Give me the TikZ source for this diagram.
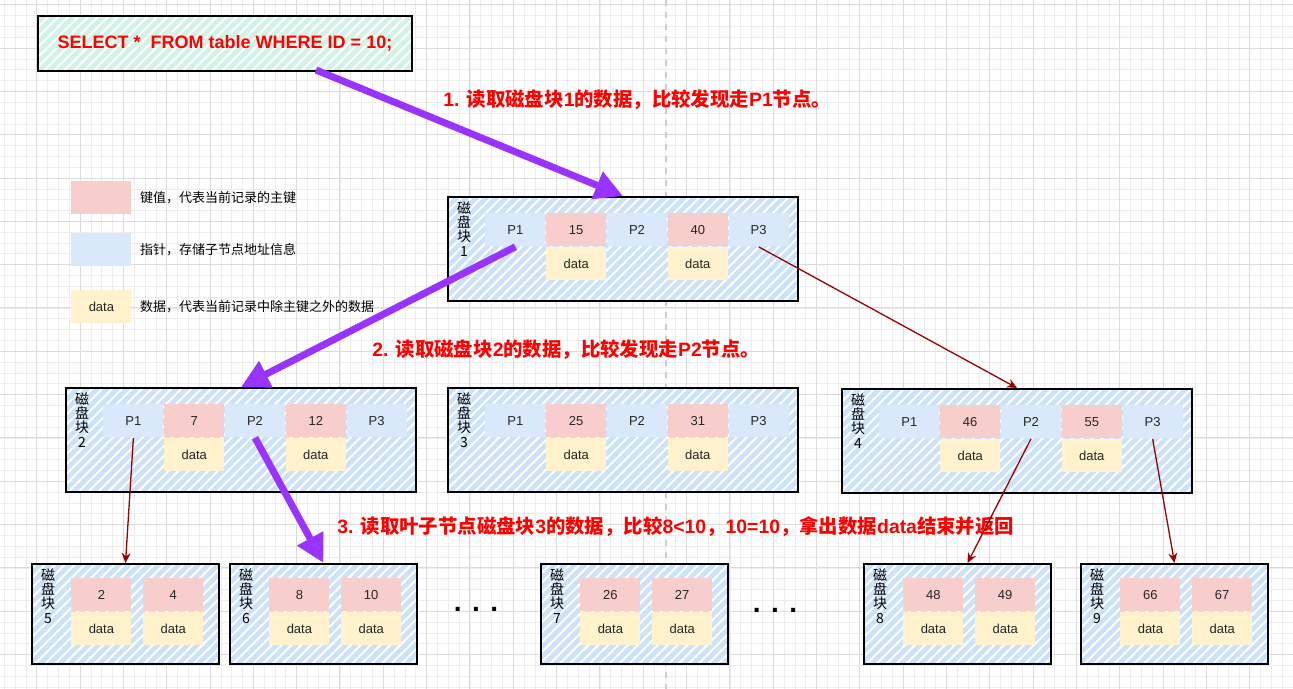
\documentclass[tikz,border=0pt]{standalone}
\usepackage{fontspec}
\setmainfont{Liberation Sans}
\newfontfamily\cjk{Noto Sans CJK SC}
\newcommand{\zh}[1]{{\cjk #1}}
\usepackage{xcolor}
\usetikzlibrary{arrows.meta,positioning,patterns.meta}

\definecolor{ptrblue}{HTML}{DAE8FC}
\definecolor{keyred}{HTML}{F8CECC}
\definecolor{datyellow}{HTML}{FFF2CC}
\definecolor{hatchblue}{HTML}{CCE2FA}
\definecolor{hatchgreen}{HTML}{D2F2E6}
\definecolor{walkpurple}{HTML}{9933FF}
\definecolor{linkred}{HTML}{990000}
\definecolor{stepred}{HTML}{FF0000}

\begin{document}
\begin{tikzpicture}[
    x=0.5pt, y=-0.5pt,
    gridfine/.style={draw=black!7, line width=0.3pt, step=5.415pt},
    gridmajor/.style={draw=black!14, line width=0.45pt, step=21.66pt},
    pagebreak/.style={draw=black!20, dash pattern=on 3pt off 3pt, line width=0.6pt},
    hatched/.style={draw=black, line width=1pt, inner sep=0pt, anchor=north west,
        preaction={fill=#1}, pattern={Lines[angle=45,distance=3.5pt,line width=1pt]}, pattern color=white},
    sqlbox/.style={hatched=hatchgreen, minimum width=187pt, minimum height=27.5pt,
        text=stepred, font=\bfseries\fontsize{9pt}{11pt}\selectfont},
    diskblk/.style={hatched=hatchblue, minimum width=175pt, minimum height=52pt},
    leafblk/.style={hatched=hatchblue, minimum width=93.5pt, minimum height=50pt},
    cell/.style={inner sep=0pt, minimum width=30pt, minimum height=16.5pt, text=black!85,
        font=\fontsize{6.5pt}{7pt}\selectfont},
    ptr/.style={cell, fill=ptrblue},
    key/.style={cell, fill=keyred},
    dat/.style={cell, fill=datyellow},
    disklabel/.style={anchor=north, align=center, inner sep=0pt, font=\cjk\fontsize{7pt}{7.2pt}\selectfont},
    legend/.style={anchor=west, inner sep=0pt, font=\cjk\fontsize{6.5pt}{8pt}\selectfont},
    steplabel/.style={anchor=west, inner sep=0pt, text=stepred, font=\bfseries\fontsize{9.7pt}{11pt}\selectfont},
    ellip/.style={inner sep=0pt, font=\bfseries\fontsize{14pt}{14pt}\selectfont},
    walk/.style={walkpurple, line width=3.5pt, -{Triangle[length=14pt,width=14pt]}},
    link/.style={linkred, line width=0.65pt, -{Stealth[length=5pt,width=4.5pt]}},
]
\useasboundingbox (0,0) rectangle (1293,689);

% canvas grid
\begin{scope}
  \clip (0,0) rectangle (1293,689);
  \draw[gridfine, shift={(36.7,4.7)}] (-40,700) grid (1300,-10);
  \draw[gridmajor, shift={(36.7,4.7)}] (-40,700) grid (1300,-10);
  \draw[pagebreak] (666,0) -- (666,689);
\end{scope}

% query
\node[sqlbox] (sql) at (37,15) {SELECT *\ \ FROM table WHERE ID = 10;};

% legend
\node[key, anchor=north west] (legkey) at (71,181) {};
\node[legend, right=4pt of legkey] (legkeytxt) {键值，代表当前记录的主键};
\node[ptr, anchor=north west] (legptr) at (71,233) {};
\node[legend, right=4pt of legptr] (legptrtxt) {指针，存储子节点地址信息};
\node[dat, anchor=north west] (legdat) at (71,290) {data};
\node[legend, right=4pt of legdat] (legdattxt) {数据，代表当前记录中除主键之外的数据};

% disk block 1 (root)
\node[diskblk] (b1) at (447,196) {};
\node[disklabel] (b1t) at ([shift={(17,5)}]b1.north west) {磁\\盘\\块\\1};
\node[ptr, anchor=north west] (b1p1) at ([shift={(38,17)}]b1.north west) {P1};
\node[key, right=0pt of b1p1] (b1k1) {15};
\node[ptr, right=0pt of b1k1] (b1p2) {P2};
\node[key, right=0pt of b1p2] (b1k2) {40};
\node[ptr, right=0pt of b1k2] (b1p3) {P3};
\node[dat, below=0pt of b1k1] (b1d1) {data};
\node[dat, below=0pt of b1k2] (b1d2) {data};

% disk block 2
\node[diskblk] (b2) at (65,387) {};
\node[disklabel] (b2t) at ([shift={(17,5)}]b2.north west) {磁\\盘\\块\\2};
\node[ptr, anchor=north west] (b2p1) at ([shift={(38,17)}]b2.north west) {P1};
\node[key, right=0pt of b2p1] (b2k1) {7};
\node[ptr, right=0pt of b2k1] (b2p2) {P2};
\node[key, right=0pt of b2p2] (b2k2) {12};
\node[ptr, right=0pt of b2k2] (b2p3) {P3};
\node[dat, below=0pt of b2k1] (b2d1) {data};
\node[dat, below=0pt of b2k2] (b2d2) {data};

% disk block 3
\node[diskblk] (b3) at (447,387) {};
\node[disklabel] (b3t) at ([shift={(17,5)}]b3.north west) {磁\\盘\\块\\3};
\node[ptr, anchor=north west] (b3p1) at ([shift={(38,17)}]b3.north west) {P1};
\node[key, right=0pt of b3p1] (b3k1) {25};
\node[ptr, right=0pt of b3k1] (b3p2) {P2};
\node[key, right=0pt of b3p2] (b3k2) {31};
\node[ptr, right=0pt of b3k2] (b3p3) {P3};
\node[dat, below=0pt of b3k1] (b3d1) {data};
\node[dat, below=0pt of b3k2] (b3d2) {data};

% disk block 4
\node[diskblk] (b4) at (841,388) {};
\node[disklabel] (b4t) at ([shift={(17,5)}]b4.north west) {磁\\盘\\块\\4};
\node[ptr, anchor=north west] (b4p1) at ([shift={(38,17)}]b4.north west) {P1};
\node[key, right=0pt of b4p1] (b4k1) {46};
\node[ptr, right=0pt of b4k1] (b4p2) {P2};
\node[key, right=0pt of b4p2] (b4k2) {55};
\node[ptr, right=0pt of b4k2] (b4p3) {P3};
\node[dat, below=0pt of b4k1] (b4d1) {data};
\node[dat, below=0pt of b4k2] (b4d2) {data};

% leaf blocks
\node[leafblk] (b5) at (31,563) {};
\node[disklabel] (b5t) at ([shift={(17,5)}]b5.north west) {磁\\盘\\块\\5};
\node[key, anchor=north west] (b5k1) at ([shift={(40,15)}]b5.north west) {2};
\node[key, right=5.5pt of b5k1] (b5k2) {4};
\node[dat, below=0pt of b5k1] (b5d1) {data};
\node[dat, below=0pt of b5k2] (b5d2) {data};

\node[leafblk] (b6) at (229,563) {};
\node[disklabel] (b6t) at ([shift={(17,5)}]b6.north west) {磁\\盘\\块\\6};
\node[key, anchor=north west] (b6k1) at ([shift={(40,15)}]b6.north west) {8};
\node[key, right=5.5pt of b6k1] (b6k2) {10};
\node[dat, below=0pt of b6k1] (b6d1) {data};
\node[dat, below=0pt of b6k2] (b6d2) {data};

\node[leafblk] (b7) at (540,563) {};
\node[disklabel] (b7t) at ([shift={(17,5)}]b7.north west) {磁\\盘\\块\\7};
\node[key, anchor=north west] (b7k1) at ([shift={(40,15)}]b7.north west) {26};
\node[key, right=5.5pt of b7k1] (b7k2) {27};
\node[dat, below=0pt of b7k1] (b7d1) {data};
\node[dat, below=0pt of b7k2] (b7d2) {data};

\node[leafblk] (b8) at (863,563) {};
\node[disklabel] (b8t) at ([shift={(17,5)}]b8.north west) {磁\\盘\\块\\8};
\node[key, anchor=north west] (b8k1) at ([shift={(40,15)}]b8.north west) {48};
\node[key, right=5.5pt of b8k1] (b8k2) {49};
\node[dat, below=0pt of b8k1] (b8d1) {data};
\node[dat, below=0pt of b8k2] (b8d2) {data};

\node[leafblk] (b9) at (1080,563) {};
\node[disklabel] (b9t) at ([shift={(17,5)}]b9.north west) {磁\\盘\\块\\9};
\node[key, anchor=north west] (b9k1) at ([shift={(40,15)}]b9.north west) {66};
\node[key, right=5.5pt of b9k1] (b9k2) {67};
\node[dat, below=0pt of b9k1] (b9d1) {data};
\node[dat, below=0pt of b9k2] (b9d2) {data};

\node[ellip] (dots1) at (476,609) {. . .};
\node[ellip] (dots2) at (775,610) {. . .};

% search steps
\node[steplabel] (step1) at (443,100) {1. \zh{读取磁盘块}1\zh{的数据，比较发现走}P1\zh{节点。}};
\node[steplabel] (step2) at (372,350) {2. \zh{读取磁盘块}2\zh{的数据，比较发现走}P2\zh{节点。}};
\node[steplabel] (step3) at (337,527) {3. \zh{读取叶子节点磁盘块}3\zh{的数据，比较}8<10\zh{，}10=10\zh{，拿出数据}data\zh{结束并返回}};

% search path
\draw[walk] ([shift={(91,-2)}]sql.south) -- (b1.north);
\draw[walk] (b1p1.south) -- (b2.north);
\draw[walk] (b2p2.south) -- (b6.north);

% other pointers
\draw[link] (b1p3.south) -- (b4.north);
\draw[link] (b2p1.south) -- (b5.north);
\draw[link] (b4p2.south) -- ([shift={(10,0)}]b8.north);
\draw[link] (b4p3.south) -- (b9.north);
\end{tikzpicture}
\end{document}
